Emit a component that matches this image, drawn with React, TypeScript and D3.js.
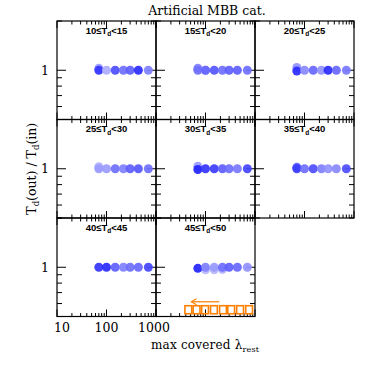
import React from 'react'
import * as d3 from 'd3'

// max covered rest-frame wavelength of each point (micron)
const lambdas = [70, 100, 150, 220, 300, 440, 700]
// Td bin edges, one panel per pair
const tdEdges = [10, 15, 20, 25, 30, 35, 40, 45, 50]
// shade of each point per panel (0 = deep blue, 1 = pale blue)
const shades = [
  [0.15, 0.85, 0.3, 0.5, 0.4, 0.1, 0.6],
  [0.5, 0.45, 0.35, 0.5, 0.4, 0.4, 0.5],
  [0.1, 0.65, 0.45, 0.7, 0.1, 0.45, 0.55],
  [0.75, 0.75, 0.5, 0.6, 0.4, 0.35, 0.5],
  [0.05, 0.15, 0.2, 0.4, 0.5, 0.55, 0.25],
  [0.2, 0.5, 0.3, 0.6, 0.7, 0.65, 0.3],
  [0.15, 0.1, 0.4, 0.6, 0.5, 0.45, 0.25],
  [0.05, 0.6, 0.75, 0.5, 0.4, 0.45, 0.7]
]
// Td(out)/Td(in) of the main points, per panel
const ratios = [
  [1, 1, 1, 1, 1, 1, 1],
  [1, 1, 1, 1, 1, 1, 1],
  [0.99, 1, 1, 1, 1, 1, 1],
  [1, 1, 1, 1, 1, 1, 1],
  [0.99, 1, 1, 1, 1, 1, 1],
  [1, 1, 1, 1, 1, 1, 1],
  [1, 1, 1, 1, 1, 1, 1],
  [0.985, 1, 1, 1, 1, 1, 1]
]
// points hidden behind the main ones: [panel, lambda index, ratio, shade]
const extraPoints = [
  [0, 0, 1.03, 0.7],
  [1, 0, 1.03, 0.55],
  [1, 1, 1.0, 0.6],
  [2, 0, 1.04, 0.65],
  [3, 0, 1.03, 0.85],
  [4, 0, 1.035, 0.7],
  [5, 0, 1.02, 0.3],
  [7, 1, 0.965, 0.9],
  [7, 2, 0.965, 0.9],
  [7, 3, 0.97, 0.85]
]
// orange limits shown in the last panel
const limitLambdas = [45, 66, 98, 148, 226, 330, 500, 760]
const limitRatio = 0.55
const arrowLambdas = [190, 52]
const arrowRatio = 0.615

const xTicks = [10, 20, 30, 40, 50, 60, 70, 80, 90, 100, 200, 300, 400, 500, 600, 700, 800, 900, 1000]
const yTicks = [0.5, 0.6, 0.7, 0.8, 0.9, 1, 2]

const left = 57
const top = 21
const pw = 99
const ph = 98.5

const x = d3.scaleLog().domain([10, 1000]).range([0, pw])
const y = d3.scaleLog().domain([0.5, 2]).range([ph, 0])
const color = d3.interpolateRgb('#1a1aff', '#c4c4ff')

const serif = 'DejaVu Serif'
const sans = 'Liberation Sans'

function Panel ({ i }) {
  const col = i % 3
  const row = Math.floor(i / 3)
  const px = left + col * pw
  const py = top + row * ph
  const isMajorX = v => [10, 100, 1000].includes(v)

  return (
    <g transform={`translate(${px},${py})`}>
      {/* x ticks, top and bottom */}
      {xTicks.map(v => {
        const len = isMajorX(v) ? 7 : 3.5
        return (
          <g key={'x' + v}>
            <line x1={x(v)} x2={x(v)} y1={0} y2={len} stroke='#000' strokeWidth={1} />
            <line x1={x(v)} x2={x(v)} y1={ph} y2={ph - len} stroke='#000' strokeWidth={1} />
          </g>
        )
      })}
      {/* y ticks, left and right */}
      {yTicks.map(v => {
        const len = v === 1 ? 9 : 5
        return (
          <g key={'y' + v}>
            <line x1={0} x2={len} y1={y(v)} y2={y(v)} stroke='#000' strokeWidth={1} />
            <line x1={pw} x2={pw - len} y1={y(v)} y2={y(v)} stroke='#000' strokeWidth={1} />
          </g>
        )
      })}
      <text x={pw / 2} y={12.5} textAnchor='middle' fontFamily={sans} fontWeight='bold' fontSize={9.5} fill='#000'>
        {tdEdges[i]}≤T<tspan fontSize={6.5} dy={2.5}>d</tspan><tspan dy={-2.5}>{'<' + tdEdges[i + 1]}</tspan>
      </text>
      {extraPoints.filter(p => p[0] === i).map((p, k) => (
        <circle key={'e' + k} cx={x(lambdas[p[1]])} cy={y(p[2])} r={4.5} fill={color(p[3])} opacity={0.85} />
      ))}
      {lambdas.map((l, k) => (
        <circle key={'p' + k} cx={x(l)} cy={y(ratios[i][k])} r={4.5} fill={color(shades[i][k])} opacity={0.92} />
      ))}
      {i === 7 && (
        <g>
          {limitLambdas.map((l, k) => (
            <rect key={'s' + k} x={x(l) - 3.4} y={y(limitRatio) - 4} width={6.8} height={8}
              fill='none' stroke='#ff7f00' strokeWidth={1.6} />
          ))}
          <line x1={x(arrowLambdas[0])} x2={x(arrowLambdas[1])} y1={y(arrowRatio)} y2={y(arrowRatio)}
            stroke='#ff7f00' strokeWidth={1.2} />
          <path d={`M${x(arrowLambdas[1]) + 5},${y(arrowRatio) - 3} L${x(arrowLambdas[1])},${y(arrowRatio)} L${x(arrowLambdas[1]) + 5},${y(arrowRatio) + 3}`}
            fill='none' stroke='#ff7f00' strokeWidth={1.2} />
        </g>
      )}
      <rect x={0} y={0} width={pw} height={ph} fill='none' stroke='#000' strokeWidth={1.2} />
      {col === 0 && (
        <text x={-8} y={y(1) + 4.5} textAnchor='end' fontFamily={serif} fontSize={12.5}>1</text>
      )}
    </g>
  )
}

export default function App () {
  const panels = d3.range(tdEdges.length - 1)
  const bottom = top + 3 * ph

  return (
    <svg width={374} height={374} style={{ position: 'absolute', left: 0, top: 0, background: '#fff' }}>
      <text x={207} y={15} textAnchor='middle' fontFamily={serif} fontSize={12.5}>Artificial MBB cat.</text>
      {panels.map(i => <Panel key={i} i={i} />)}
      {[10, 100, 1000].map(v => (
        <text key={v} x={left + x(v) + (v === 10 ? 5 : v === 1000 ? -2 : 0)} y={bottom + 15}
          textAnchor='middle' fontFamily={serif} fontSize={12.5}>{v}</text>
      ))}
      <text x={151} y={349} fontFamily={serif} fontSize={12} letterSpacing={0.2}>
        max covered λ<tspan fontSize={8} dy={3}>rest</tspan>
      </text>
      <text transform={`translate(36,${top + 1.5 * ph}) rotate(-90)`} textAnchor='middle'
        fontFamily={serif} fontSize={12.5}>
        T<tspan fontSize={8.5} dy={3}>d</tspan><tspan dy={-3}>(out) / T</tspan><tspan fontSize={8.5} dy={3}>d</tspan><tspan dy={-3}>(in)</tspan>
      </text>
    </svg>
  )
}
